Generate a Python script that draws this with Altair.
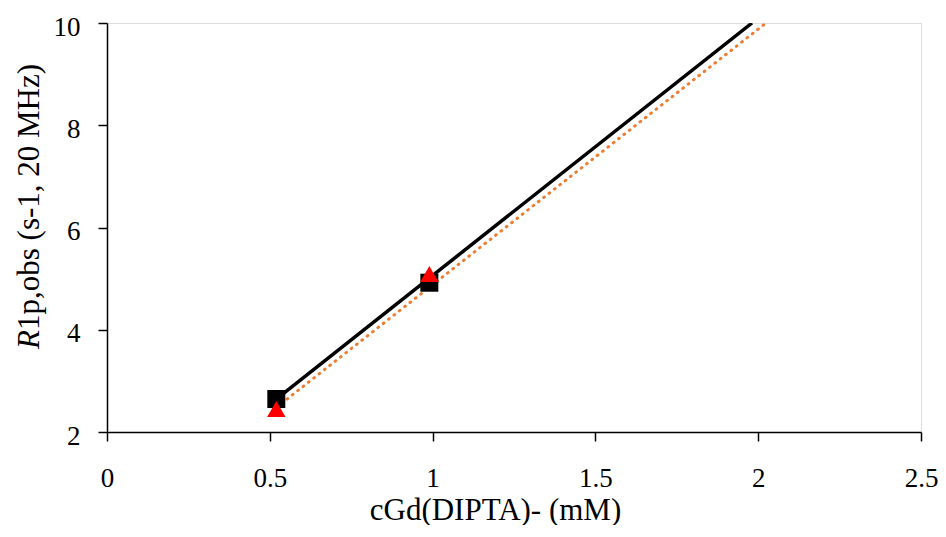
import altair as alt
import pandas as pd

# data points
conc = [0.52, 0.99]
sq_vals = [2.645, 4.92]
tri_vals = [2.45, 5.09]

# trendline endpoints
fit1_x = [0.52, 1.981]
fit1_y = [2.645, 10.0]
fit2_x = [0.52, 2.024]
fit2_y = [2.48, 10.0]

x_ticks = [0, 0.5, 1, 1.5, 2, 2.5]
y_ticks = [2, 4, 6, 8, 10]

FONT = "Liberation Serif"

xs = alt.Scale(domain=[0, 2.5], nice=False)
ys = alt.Scale(domain=[2, 10], nice=False)

xax = alt.Axis(values=x_ticks, title="cGd(DIPTA)- (mM)", grid=False, labelFontSize=27,
               labelFont=FONT, titleFont=FONT, titleFontSize=31, titleFontWeight="normal",
               labelColor="black", titleColor="black", domainColor="black", tickColor="black",
               domainWidth=1.5, tickWidth=1.5, tickSize=9, labelPadding=24, titlePadding=4,
               titleX=388, labelFlush=False, labelExpr="datum.value")
yax = alt.Axis(values=y_ticks, title=None, grid=False, labelFontSize=27, labelFont=FONT,
               labelColor="black", domainColor="black", tickColor="black",
               domainWidth=1.5, tickWidth=1.5, tickSize=9, labelPadding=18, labelOffset=4,
               labelFlush=False)

df_sq = pd.DataFrame({"x": conc, "y": sq_vals})
df_tri = pd.DataFrame({"x": conc, "y": tri_vals})
df_f1 = pd.DataFrame({"x": fit1_x, "y": fit1_y})
df_f2 = pd.DataFrame({"x": fit2_x, "y": fit2_y})

base_x = alt.X("x:Q", scale=xs, axis=xax)
base_y = alt.Y("y:Q", scale=ys, axis=yax)

line1 = alt.Chart(df_f1).mark_line(color="black", strokeWidth=3.5, clip=True).encode(x=base_x, y=base_y)
line2 = alt.Chart(df_f2).mark_line(color="#ED7D31", strokeWidth=3, strokeDash=[0.8, 6],
                                   strokeCap="round", clip=True).encode(x=base_x, y=base_y)
squares = alt.Chart(df_sq).mark_point(shape="square", filled=True, color="black", size=324,
                                      opacity=1).encode(x=base_x, y=base_y)
tris = alt.Chart(df_tri).mark_point(shape="triangle-up", filled=True, color="#FF0000", size=340,
                                    opacity=1).encode(x=base_x, y=base_y)

title_df = pd.DataFrame({"t": ["R"]})
title_df2 = pd.DataFrame({"t": ["1p,obs (s-1, 20 MHz)"]})
tR = alt.Chart(title_df).mark_text(angle=270, align="left", baseline="middle", font=FONT,
                                   fontSize=31, fontStyle="italic", color="black").encode(
    text="t:N", x=alt.value(-77), y=alt.value(326))
tRest = alt.Chart(title_df2).mark_text(angle=270, align="left", baseline="middle", font=FONT,
                                       fontSize=31, color="black").encode(
    text="t:N", x=alt.value(-77), y=alt.value(307))

chart = alt.layer(line2, line1, squares, tris, tR, tRest).properties(
    width=814, height=409, padding={"left": 5, "top": 5, "right": 0, "bottom": 0}
).configure_view(stroke=None).configure(background="white")

chart.save("out.html", embed_options={"renderer": "svg", "actions": False})
